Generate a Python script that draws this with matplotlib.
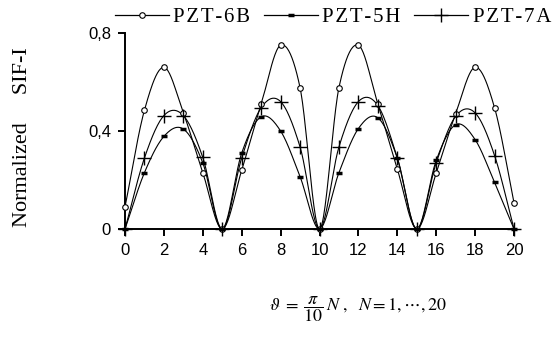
import numpy as np
import matplotlib
matplotlib.use("Agg")
import matplotlib.pyplot as plt
from matplotlib.lines import Line2D

N = list(range(0, 21))
pzt6b = [0.09, 0.485, 0.66, 0.474, 0.23, 0.0, 0.24, 0.51, 0.75, 0.577, 0.0,
         0.577, 0.75, 0.51, 0.245, 0.0, 0.228, 0.471, 0.66, 0.495, 0.108]
pzt5h = [0.0, 0.23, 0.378, 0.408, 0.27, 0.0, 0.31, 0.458, 0.40, 0.214, 0.0,
         0.23, 0.41, 0.454, 0.29, 0.0, 0.28, 0.426, 0.365, 0.19, 0.0]
pzt7a = [0.0, 0.29, 0.463, 0.463, 0.292, 0.0, 0.29, 0.495, 0.52, 0.335, 0.0,
         0.335, 0.52, 0.504, 0.29, 0.0, 0.27, 0.46, 0.474, 0.30, 0.0]
labels = ["PZT-6B", "PZT-5H", "PZT-7A"]
yticks = [0, 0.4, 0.8]
yticklabels = ["0", "0,4", "0,8"]
xticks = list(range(0, 21, 2))


def smooth(x, y, n=24):
    x = np.asarray(x, float)
    y = np.asarray(y, float)
    px = np.concatenate([[2 * x[0] - x[1]], x, [2 * x[-1] - x[-2]]])
    py = np.concatenate([[2 * y[0] - y[1]], y, [2 * y[-1] - y[-2]]])
    xs, ys = [], []
    t = np.linspace(0, 1, n, endpoint=False)
    for i in range(1, len(px) - 2):
        for arr, a in ((xs, px), (ys, py)):
            a0, a1, a2, a3 = a[i - 1], a[i], a[i + 1], a[i + 2]
            arr.extend(0.5 * ((2 * a1) + (-a0 + a2) * t
                              + (2 * a0 - 5 * a1 + 4 * a2 - a3) * t ** 2
                              + (-a0 + 3 * a1 - 3 * a2 + a3) * t ** 3))
    xs.append(x[-1])
    ys.append(y[-1])
    return np.array(xs), np.array(ys)


plt.rcParams["mathtext.fontset"] = "stix"
fig = plt.figure(figsize=(5.58, 3.39), dpi=100)
ax = fig.add_axes([125 / 558, 1 - 229 / 339, (514 - 125) / 558, (229 - 33) / 339])

styles = [
    dict(marker="o", ms=4, mfc="white", mec="black", mew=0.8),
    dict(marker="_", ms=5, mec="black", mew=2.5),
    dict(marker="+", ms=10, mec="black", mew=1.0),
]
handles = []
for ys, st in zip([pzt6b, pzt5h, pzt7a], styles):
    sx, sy = smooth(N, ys)
    ax.plot(sx, sy, color="black", lw=0.8, clip_on=False)
    ax.plot(N, ys, ls="none", clip_on=False, zorder=3, **st)
    handles.append(Line2D([], [], color="black", lw=0.9, **st))

ax.set_xlim(0, 20)
ax.set_ylim(0, 0.8)
ax.set_xticks(xticks)
ax.set_xticklabels([str(v) for v in xticks])
ax.set_yticks(yticks)
ax.set_yticklabels(yticklabels)
for s in ["top", "right"]:
    ax.spines[s].set_visible(False)
for s in ["left", "bottom"]:
    ax.spines[s].set_linewidth(1.4)
ax.tick_params(axis="both", direction="out", length=5, width=1.4, pad=5,
               labelsize=12)
for t in ax.get_xticklabels() + ax.get_yticklabels():
    t.set_fontfamily("Liberation Sans")

fig.text(0.040, 1 - 137 / 339, "Normalized     SIF-I", rotation=90,
         ha="center", va="center", fontsize=16, family="Liberation Serif")

fig.text(358 / 558, 1 - 309 / 339,
         r"$\vartheta\;=\;\dfrac{\pi}{10}\,N\ ,\ \ N=1,\cdots,20$",
         ha="center", va="center", fontsize=13)

spaced = ["\u200a".join(lab) for lab in labels]
fig.legend(handles=handles, labels=spaced, loc="center",
           bbox_to_anchor=(333 / 558, 1 - 17 / 339), ncol=3, frameon=False,
           handlelength=2.6, handletextpad=0.2, columnspacing=0.65,
           prop={"family": "Liberation Serif", "size": 15}, borderpad=0)

fig.savefig("out.png", dpi=100)
